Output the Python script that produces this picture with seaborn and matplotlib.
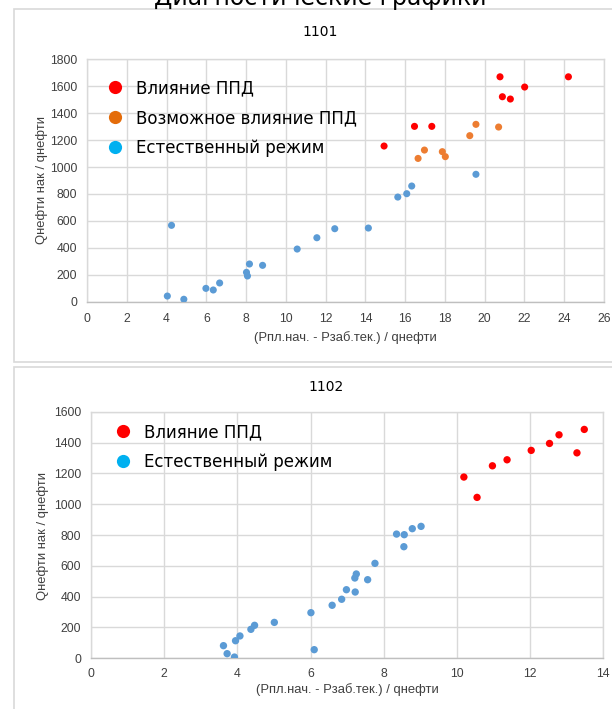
import matplotlib
matplotlib.use("Agg")
import matplotlib.pyplot as plt
import seaborn as sns
import pandas as pd
from matplotlib.lines import Line2D
from matplotlib.patches import Rectangle

# ---------------- data ----------------
p1_influence_x = [14.94, 16.47, 17.34, 20.77, 20.89, 21.29, 22.01, 24.21]
p1_influence_y = [1156, 1302, 1302, 1670, 1522, 1505, 1594, 1670]
p1_possible_x = [16.65, 16.97, 17.87, 18.02, 19.25, 19.56, 20.70]
p1_possible_y = [1064, 1126, 1114, 1077, 1233, 1317, 1297]
p1_natural_x = [4.04, 4.25, 4.87, 5.98, 6.35, 6.67, 8.02, 8.07, 8.17, 8.83,
                10.57, 11.56, 12.46, 14.15, 15.63, 16.08, 16.33, 19.56]
p1_natural_y = [42, 567, 18, 99, 87, 139, 218, 191, 280, 270,
                391, 475, 542, 547, 777, 802, 859, 946]

p2_natural_x = [3.62, 3.72, 3.92, 3.95, 4.07, 4.37, 4.47, 5.01, 6.01, 6.10,
                6.59, 6.85, 6.98, 7.22, 7.21, 7.25, 7.56, 7.76, 8.35, 8.56,
                8.55, 8.78, 9.02]
p2_natural_y = [82, 30, 8, 114, 145, 188, 214, 233, 296, 56,
                344, 383, 445, 430, 521, 547, 510, 616, 806, 802,
                724, 841, 856]
p2_influence_x = [10.19, 10.55, 10.97, 11.37, 12.03, 12.53, 12.79, 13.28, 13.48]
p2_influence_y = [1176, 1044, 1249, 1288, 1349, 1394, 1450, 1333, 1485]

categories = ["Влияние ППД", "Возможное влияние ППД", "Естественный режим"]
point_colors = {"Влияние ППД": "#FF0000", "Возможное влияние ППД": "#ED7D31",
                "Естественный режим": "#5B9BD5"}
legend_colors = {"Влияние ППД": "#FF0000", "Возможное влияние ППД": "#E46C0A",
                 "Естественный режим": "#00B0F0"}

main_title = "Диагностические графики"
titles = ["1101", "1102"]
x_label = "(Рпл.нач. - Рзаб.тек.) / qнефти"
y_label = "Qнефти нак / qнефти"
p1_xticks = list(range(0, 27, 2))
p1_yticks = list(range(0, 1801, 200))
p2_xticks = list(range(0, 15, 2))
p2_yticks = list(range(0, 1601, 200))

df1 = pd.DataFrame({
    "x": p1_influence_x + p1_possible_x + p1_natural_x,
    "y": p1_influence_y + p1_possible_y + p1_natural_y,
    "cat": [categories[0]] * len(p1_influence_x) + [categories[1]] * len(p1_possible_x)
           + [categories[2]] * len(p1_natural_x),
})
df2 = pd.DataFrame({
    "x": p2_influence_x + p2_natural_x,
    "y": p2_influence_y + p2_natural_y,
    "cat": [categories[0]] * len(p2_influence_x) + [categories[2]] * len(p2_natural_x),
})

# ---------------- style ----------------
sns.set_theme(style="white")
plt.rcParams["font.family"] = ["DejaVu Sans"]
tick_font = ["Liberation Sans Narrow", "Liberation Sans", "DejaVu Sans"]
grid_c = "#D9D9D9"
text_c = "#404040"

W, H = 612, 709
fig = plt.figure(figsize=(W / 100, H / 100), dpi=100)
fig.patch.set_facecolor("white")

def fx(px):
    return px / W

def fy(py):
    return 1 - py / H

# cards
fig.patches.append(Rectangle((fx(14), fy(362)), fx(620) - fx(14), fy(9) - fy(362),
                             transform=fig.transFigure, facecolor="white",
                             edgecolor=grid_c, linewidth=1.2, zorder=-10))
fig.patches.append(Rectangle((fx(14), fy(760)), fx(620) - fx(14), fy(367) - fy(760),
                             transform=fig.transFigure, facecolor="white",
                             edgecolor=grid_c, linewidth=1.2, zorder=-10))

fig.text(fx(320), fy(5), main_title, ha="center", va="baseline", fontsize=17, color="black")

ax1 = fig.add_axes([fx(87), fy(301.7), fx(604) - fx(87), fy(59.3) - fy(301.7)])
ax2 = fig.add_axes([fx(91), fy(658.3), fx(603.3) - fx(91), fy(411.7) - fy(658.3)])
ax1.set_zorder(2)
ax2.set_zorder(2)

def style_axes(ax, xticks, yticks, xpad, ypad):
    ax.patch.set_alpha(0)
    ax.set_xlim(xticks[0], xticks[-1])
    ax.set_ylim(yticks[0], yticks[-1])
    ax.set_xticks(xticks)
    ax.set_yticks(yticks)
    ax.set_xticklabels([str(t) for t in xticks], family=tick_font, fontsize=8.8, color=text_c)
    ax.set_yticklabels([str(t) for t in yticks], family=tick_font, fontsize=8.8, color=text_c)
    ax.grid(True, color=grid_c, linewidth=1.0)
    ax.set_axisbelow(True)
    for s in ax.spines.values():
        s.set_color(grid_c)
        s.set_linewidth(1.0)
    ax.spines["bottom"].set_color("#BFBFBF")
    ax.tick_params(axis="x", length=0, pad=xpad)
    ax.tick_params(axis="y", length=0, pad=ypad)
    ax.set_xlabel("")
    ax.set_ylabel("")

sns.scatterplot(data=df1, x="x", y="y", hue="cat", palette=point_colors, s=26,
                linewidth=0, ax=ax1, legend=False, zorder=3)
sns.scatterplot(data=df2, x="x", y="y", hue="cat", palette=point_colors, s=28,
                linewidth=0, ax=ax2, legend=False, zorder=3)

style_axes(ax1, p1_xticks, p1_yticks, 8, 7)
style_axes(ax2, p2_xticks, p2_yticks, 7, 7)

def make_legend(ax, cats, anchor):
    handles = [Line2D([0], [0], marker="o", linestyle="", markersize=9.5,
                      markerfacecolor=legend_colors[c], markeredgewidth=0) for c in cats]
    leg = ax.legend(handles, cats, loc="upper left", bbox_to_anchor=anchor,
                    bbox_transform=fig.transFigure, frameon=False, fontsize=12,
                    handlelength=0.6, handletextpad=0.95, labelspacing=0.72,
                    borderpad=0, borderaxespad=0)
    for t in leg.get_texts():
        t.set_color("black")
    return leg

make_legend(ax1, categories, (fx(110), fy(79)))
make_legend(ax2, [categories[0], categories[2]], (fx(118), fy(423)))

fig.text(fx(320), fy(32), titles[0], ha="center", va="center", fontsize=10, color="black")
fig.text(fx(326), fy(387), titles[1], ha="center", va="center", fontsize=10, color="black")

fig.text(fx(345), fy(338), x_label, ha="center", va="center", fontsize=9.4,
         family=tick_font, color=text_c)
fig.text(fx(347), fy(690), x_label, ha="center", va="center", fontsize=9.4,
         family=tick_font, color=text_c)
fig.text(fx(42), fy(180), y_label, ha="center", va="center", rotation=90, fontsize=9.4,
         family=tick_font, color=text_c)
fig.text(fx(43), fy(536), y_label, ha="center", va="center", rotation=90, fontsize=9.4,
         family=tick_font, color=text_c)

fig.savefig("out.png", dpi=100, facecolor="white")
